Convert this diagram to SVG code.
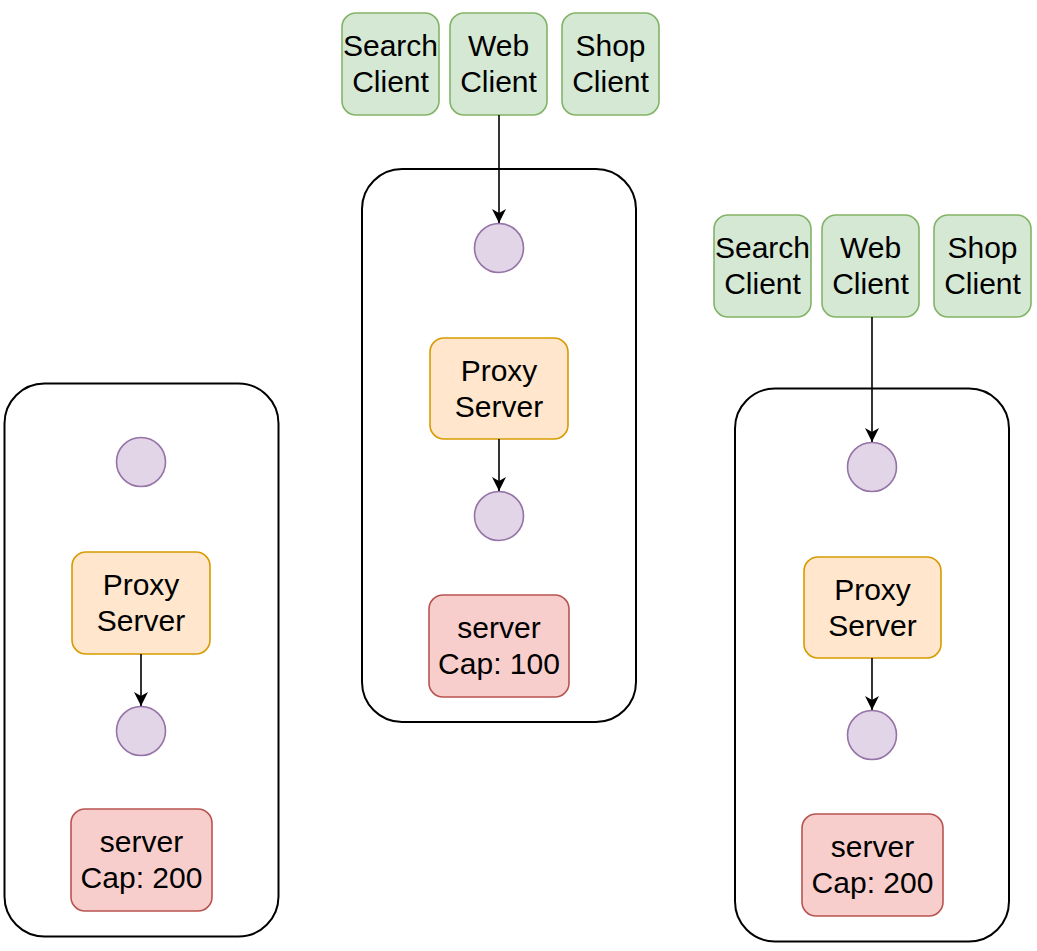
<svg xmlns="http://www.w3.org/2000/svg" width="1037" height="951" viewBox="0 0 1037 951">
<defs>
<marker id="arr" markerUnits="userSpaceOnUse" viewBox="0 0 14 14" markerWidth="14" markerHeight="14" refX="14" refY="7" orient="auto">
<path d="M0,0 L14,7 L0,14 L4,7 Z" fill="#000"/>
</marker>
<style>
.cont{fill:#fff;stroke:#000;stroke-width:2}
.client{fill:#d5e8d4;stroke:#82b366;stroke-width:1.6}
.proxy{fill:#ffe6cc;stroke:#d79b00;stroke-width:1.6}
.server{fill:#f8cecc;stroke:#b85450;stroke-width:1.6}
.dot{fill:#e1d5e7;stroke:#9673a6;stroke-width:1.6}
.t{font-family:"Liberation Sans",Arial,sans-serif;font-size:30px;fill:#000;text-anchor:middle}
.edge{stroke:#000;stroke-width:1.6;fill:none;marker-end:url(#arr)}
</style>
</defs>
<rect width="1037" height="951" fill="#fff"/>

<g id="left-container"><rect class="cont" x="4.5" y="383.5" width="274" height="553" rx="40"/></g>
<g id="left-circle-top"><circle class="dot" cx="141" cy="462" r="24.5"/></g>
<g id="left-proxy"><rect class="proxy" x="72" y="552" width="138" height="102" rx="14"/><text class="t" x="141" y="595">Proxy</text><text class="t" x="141" y="631">Server</text></g>
<g id="left-circle-bottom"><circle class="dot" cx="141" cy="731" r="24.5"/></g>
<g id="left-server"><rect class="server" x="71" y="809" width="141" height="102" rx="14"/><text class="t" x="141.5" y="852">server</text><text class="t" x="141.5" y="888">Cap: 200</text></g>

<g id="mid-container"><rect class="cont" x="362" y="169" width="274" height="553" rx="40"/></g>
<g id="mid-search"><rect class="client" x="342" y="13" width="97" height="102" rx="14"/><text class="t" x="390.5" y="56">Search</text><text class="t" x="390.5" y="92">Client</text></g>
<g id="mid-web"><rect class="client" x="450" y="13" width="97" height="102" rx="14"/><text class="t" x="498.5" y="56">Web</text><text class="t" x="498.5" y="92">Client</text></g>
<g id="mid-shop"><rect class="client" x="562" y="13" width="97" height="102" rx="14"/><text class="t" x="610.5" y="56">Shop</text><text class="t" x="610.5" y="92">Client</text></g>
<g id="mid-circle-top"><circle class="dot" cx="499" cy="248" r="24.5"/></g>
<g id="mid-proxy"><rect class="proxy" x="430" y="338" width="138" height="101" rx="14"/><text class="t" x="499" y="381">Proxy</text><text class="t" x="499" y="417">Server</text></g>
<g id="mid-circle-bottom"><circle class="dot" cx="499" cy="516" r="24.5"/></g>
<g id="mid-server"><rect class="server" x="429" y="595" width="140" height="102" rx="14"/><text class="t" x="499" y="638">server</text><text class="t" x="499" y="674">Cap: 100</text></g>

<g id="right-container"><rect class="cont" x="735" y="388.5" width="274" height="553" rx="40"/></g>
<g id="right-search"><rect class="client" x="714" y="215" width="97" height="102" rx="14"/><text class="t" x="762.5" y="258">Search</text><text class="t" x="762.5" y="294">Client</text></g>
<g id="right-web"><rect class="client" x="822" y="215" width="97" height="102" rx="14"/><text class="t" x="870.5" y="258">Web</text><text class="t" x="870.5" y="294">Client</text></g>
<g id="right-shop"><rect class="client" x="934" y="215" width="97" height="102" rx="14"/><text class="t" x="982.5" y="258">Shop</text><text class="t" x="982.5" y="294">Client</text></g>
<g id="right-circle-top"><circle class="dot" cx="872" cy="467" r="24.5"/></g>
<g id="right-proxy"><rect class="proxy" x="804" y="557" width="137" height="101" rx="14"/><text class="t" x="872.5" y="600">Proxy</text><text class="t" x="872.5" y="636">Server</text></g>
<g id="right-circle-bottom"><circle class="dot" cx="872" cy="735" r="24.5"/></g>
<g id="right-server"><rect class="server" x="802" y="814" width="141" height="102" rx="14"/><text class="t" x="872.5" y="857">server</text><text class="t" x="872.5" y="893">Cap: 200</text></g>

<g id="connectors">
<line class="edge" x1="141" y1="654" x2="141" y2="706"/>
<line class="edge" x1="499" y1="115" x2="499" y2="223"/>
<line class="edge" x1="499" y1="439" x2="499" y2="491"/>
<line class="edge" x1="872" y1="317" x2="872" y2="442"/>
<line class="edge" x1="872" y1="658" x2="872" y2="710"/>
</g>
</svg>
